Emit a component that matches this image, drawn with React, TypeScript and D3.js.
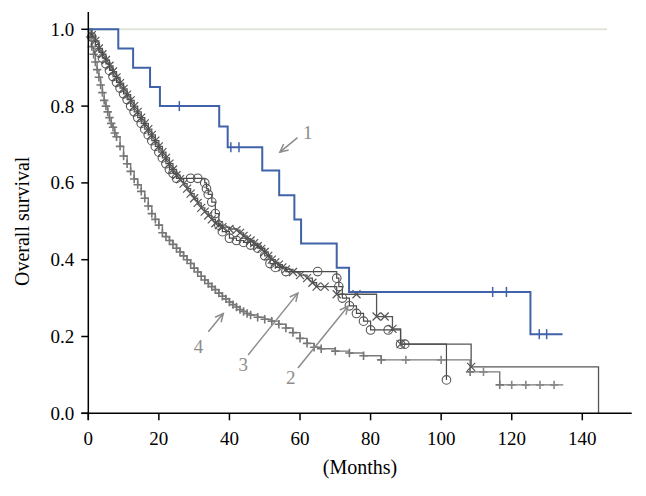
import React from 'react';
import * as d3 from 'd3';

const W = 646;
const H = 496;

// Curve 1 (blue): [month, survival]
const curve1: [number, number][] = [
  [0, 1], [8.5, 0.95], [12.7, 0.9], [17.5, 0.85], [20.3, 0.8], [37.1, 0.747], [39.5, 0.693],
  [49.3, 0.632], [54.1, 0.568], [58.4, 0.505], [60.3, 0.442], [70.4, 0.379], [73.9, 0.316],
  [125.3, 0.206], [134.4, 0.206],
];
const censor1: [number, number][] = [
  [25.8, 0.8], [40.4, 0.693], [42.7, 0.693], [114.6, 0.316], [118.5, 0.316], [127.8, 0.206], [129.9, 0.206],
];

// Curve 2 (circles)
const curve2: [number, number][] = [
  [0, 1], [1, 0.98], [2, 0.96], [3, 0.94], [4, 0.925], [5, 0.91], [6, 0.893], [7, 0.877], [8, 0.862],
  [9, 0.847], [10, 0.832], [11, 0.817], [12, 0.8], [13, 0.785], [14, 0.77], [15, 0.755], [16, 0.74],
  [17, 0.725], [18, 0.71], [19, 0.695], [20, 0.68], [21, 0.665], [22, 0.65], [23, 0.635], [24, 0.625],
  [25, 0.612], [33, 0.6], [33.5, 0.585], [34, 0.57], [35, 0.55], [36, 0.52], [37, 0.49], [38, 0.473],
  [40, 0.456], [42, 0.45], [44, 0.445], [46, 0.438], [48, 0.43], [50, 0.41], [51.5, 0.39], [53, 0.38],
  [56, 0.369], [70.4, 0.352], [71, 0.33], [72, 0.3], [74, 0.28], [76, 0.26], [78, 0.24], [80, 0.217],
  [88.5, 0.18], [101.5, 0.087],
];
const censor2: [number, number][] = [
  [29, 0.612], [31, 0.612], [65, 0.369], [85, 0.217], [89.7, 0.18],
];

// Curve 3 (crosses)
const curve3: [number, number][] = [
  [0, 1], [1, 0.985], [2, 0.97], [3, 0.95], [4, 0.935], [5, 0.92], [6, 0.905], [7, 0.89], [8, 0.875],
  [9, 0.86], [10, 0.845], [11, 0.83], [12, 0.815], [13, 0.8], [14, 0.785], [15, 0.77], [16, 0.755],
  [17, 0.74], [18, 0.725], [19, 0.71], [20, 0.695], [21, 0.68], [22, 0.665], [23, 0.65], [24, 0.635],
  [25, 0.62], [26, 0.61], [27, 0.598], [28, 0.585], [29, 0.572], [30, 0.56], [31, 0.548], [32, 0.535],
  [33, 0.525], [34, 0.515], [35, 0.505], [36, 0.495], [37, 0.49], [38, 0.485], [40, 0.48], [42, 0.477],
  [43, 0.47], [44, 0.462], [45, 0.455], [46, 0.45], [47, 0.443], [48, 0.435], [49, 0.428], [50, 0.42],
  [51, 0.41], [52, 0.4], [53, 0.393], [54, 0.387], [55, 0.38], [56, 0.375], [58, 0.368], [60, 0.36],
  [62, 0.352], [63.5, 0.34], [64.7, 0.33], [70.4, 0.31], [81.7, 0.252], [86.2, 0.22], [88.5, 0.18],
  [108.5, 0.121], [144.6, 0],
];
const censor3: [number, number][] = [
  [67, 0.33], [76, 0.31], [84, 0.252],
];

// Curve 4 (plus)
const curve4: [number, number][] = [
  [0, 1], [0.5, 0.98], [1, 0.955], [1.5, 0.935], [2, 0.915], [2.5, 0.895], [3, 0.875], [3.5, 0.855],
  [4, 0.835], [4.5, 0.815], [5, 0.8], [5.5, 0.785], [6, 0.77], [6.5, 0.755], [7, 0.745], [7.5, 0.73],
  [8, 0.72], [9, 0.695], [10, 0.67], [11, 0.65], [12, 0.63], [13, 0.61], [14, 0.595], [15, 0.578],
  [16, 0.56], [17, 0.54], [18, 0.52], [19, 0.505], [20, 0.49], [21, 0.47], [22, 0.46], [23, 0.45],
  [24, 0.44], [25, 0.43], [26, 0.42], [27, 0.41], [28, 0.4], [29, 0.39], [30, 0.378], [31, 0.368],
  [32, 0.357], [33, 0.347], [34, 0.338], [35, 0.33], [36, 0.322], [37, 0.313], [38, 0.305], [39, 0.298],
  [40, 0.29], [41, 0.283], [42, 0.277], [43, 0.27], [44, 0.265], [45, 0.26], [46, 0.256], [48, 0.25],
  [50, 0.245], [52, 0.24], [54, 0.232], [56, 0.222], [58, 0.21], [60, 0.195], [62, 0.182], [64, 0.172],
  [66, 0.168], [70, 0.162], [74, 0.157], [78, 0.15], [83, 0.139], [108.2, 0.108], [116.6, 0.074],
  [134.6, 0.074],
];
const censor4: [number, number][] = [
  [90, 0.139], [100, 0.139], [112, 0.108], [120, 0.074], [124, 0.074], [128, 0.074], [132, 0.074],
];

const xTicks = [0, 20, 40, 60, 80, 100, 120, 140];
const yTicks = [0, 0.2, 0.4, 0.6, 0.8, 1.0];

// Annotations in data coordinates
const annotations: { label: string; at: [number, number]; from: [number, number]; to: [number, number] }[] = [
  { label: '1', at: [62.2, 0.731], from: [59.3, 0.718], to: [54.3, 0.68] },
  { label: '4', at: [31.2, 0.173], from: [34.0, 0.2125], to: [38.25, 0.26] },
  { label: '3', at: [43.9, 0.126], from: [45.3, 0.152], to: [59.4, 0.313] },
  { label: '2', at: [57.4, 0.092], from: [59.4, 0.118], to: [73.6, 0.279] },
];

const FONT = '"Liberation Serif", "Times New Roman", serif';

export default function App() {
  const x = d3.scaleLinear().domain([0, 154]).range([88.3, 631.7]);
  const y = d3.scaleLinear().domain([0, 1]).range([413.3, 29.3]);

  const line = d3
    .line<[number, number]>()
    .x((d) => x(d[0]))
    .y((d) => y(d[1]))
    .curve(d3.curveStepAfter);

  const circle = (d: [number, number], i: number, color: string) => (
    <circle key={'c' + i} cx={x(d[0])} cy={y(d[1])} r={4.3} fill="none" stroke={color} strokeWidth={1.1} />
  );
  const cross = (d: [number, number], i: number, color: string) => {
    const cx = x(d[0]);
    const cy = y(d[1]);
    const s = 4;
    return (
      <path key={'x' + i} d={`M${cx - s},${cy - s}L${cx + s},${cy + s}M${cx - s},${cy + s}L${cx + s},${cy - s}`}
        stroke={color} strokeWidth={1.2} fill="none" />
    );
  };
  const plus = (d: [number, number], i: number, color: string) => {
    const cx = x(d[0]);
    const cy = y(d[1]);
    const s = 4.2;
    return (
      <path key={'p' + i} d={`M${cx - s},${cy}L${cx + s},${cy}M${cx},${cy - s}L${cx},${cy + s}`}
        stroke={color} strokeWidth={1.6} fill="none" />
    );
  };
  const tick = (d: [number, number], i: number, color: string) => {
    const cx = x(d[0]);
    const cy = y(d[1]);
    return <line key={'t' + i} x1={cx} x2={cx} y1={cy - 5} y2={cy + 5} stroke={color} strokeWidth={1.5} />;
  };

  const arrowHead = (from: [number, number], to: [number, number]) => {
    const x1 = x(from[0]), y1 = y(from[1]), x2 = x(to[0]), y2 = y(to[1]);
    const ang = Math.atan2(y2 - y1, x2 - x1);
    const L = 9;
    const a1 = ang + Math.PI - 0.45;
    const a2 = ang + Math.PI + 0.45;
    return `M${x2 + L * Math.cos(a1)},${y2 + L * Math.sin(a1)}L${x2},${y2}L${x2 + L * Math.cos(a2)},${y2 + L * Math.sin(a2)}`;
  };

  return (
    <svg width={W} height={H} style={{ position: 'absolute', left: 0, top: 0, background: '#fff' }}>
      <rect x={0} y={0} width={W} height={H} fill="#fff" />
      <line x1={x(0)} x2={x(147)} y1={y(1)} y2={y(1)} stroke="#e0e5d9" strokeWidth={2} />

      {/* curve 4 */}
      <path d={line(curve4) || ''} fill="none" stroke="#7a7a7a" strokeWidth={1.4} />
      {curve4.slice(1, -1).map((d, i) => plus(d, i, '#777'))}
      {censor4.map((d, i) => plus(d, 1000 + i, '#888'))}

      {/* curve 3 */}
      <path d={line(curve3) || ''} fill="none" stroke="#555" strokeWidth={1.3} />
      {curve3.slice(1, -1).map((d, i) => cross(d, i, '#555'))}
      {censor3.map((d, i) => cross(d, 1000 + i, '#555'))}

      {/* curve 2 */}
      <path d={line(curve2) || ''} fill="none" stroke="#4a4a4a" strokeWidth={1.2} />
      {curve2.slice(1).map((d, i) => circle(d, i, '#555'))}
      {censor2.map((d, i) => circle(d, 1000 + i, '#555'))}

      {/* curve 1 */}
      <path d={line(curve1) || ''} fill="none" stroke="#3f62a8" strokeWidth={2} />
      {censor1.map((d, i) => tick(d, i, '#3f62a8'))}

      {/* annotations */}
      {annotations.map((a) => (
        <g key={a.label}>
          <line x1={x(a.from[0])} y1={y(a.from[1])} x2={x(a.to[0])} y2={y(a.to[1])} stroke="#8c8c8c" strokeWidth={1.5} />
          <path d={arrowHead(a.from, a.to)} fill="none" stroke="#8c8c8c" strokeWidth={1.5} />
          <text x={x(a.at[0])} y={y(a.at[1])} fill="#8c8c8c" fontFamily={FONT} fontSize={19}
            textAnchor="middle" dominantBaseline="central">{a.label}</text>
        </g>
      ))}

      {/* axes */}
      <line x1={x(0)} x2={x(0)} y1={12} y2={420} stroke="#000" strokeWidth={1.5} />
      <line x1={x(0) - 7} x2={x(154)} y1={y(0)} y2={y(0)} stroke="#000" strokeWidth={1.5} />
      {yTicks.map((t) => (
        <g key={'y' + t}>
          <line x1={x(0) - 7} x2={x(0)} y1={y(t)} y2={y(t)} stroke="#000" strokeWidth={1.5} />
          <text x={x(0) - 14} y={y(t)} textAnchor="end" dominantBaseline="central" fontFamily={FONT} fontSize={19}>
            {t.toFixed(1)}
          </text>
        </g>
      ))}
      {xTicks.map((t) => (
        <g key={'x' + t}>
          <line x1={x(t)} x2={x(t)} y1={y(0)} y2={y(0) + 7} stroke="#000" strokeWidth={1.5} />
          <text x={x(t)} y={y(0) + 25} textAnchor="middle" dominantBaseline="central" fontFamily={FONT} fontSize={19}>
            {t}
          </text>
        </g>
      ))}
      <text x={x(77)} y={467} textAnchor="middle" dominantBaseline="central" fontFamily={FONT} fontSize={20}>
        (Months)
      </text>
      <text transform={`translate(22,${y(0.5)}) rotate(-90)`} textAnchor="middle" dominantBaseline="central"
        fontFamily={FONT} fontSize={20}>
        Overall survival
      </text>
    </svg>
  );
}
